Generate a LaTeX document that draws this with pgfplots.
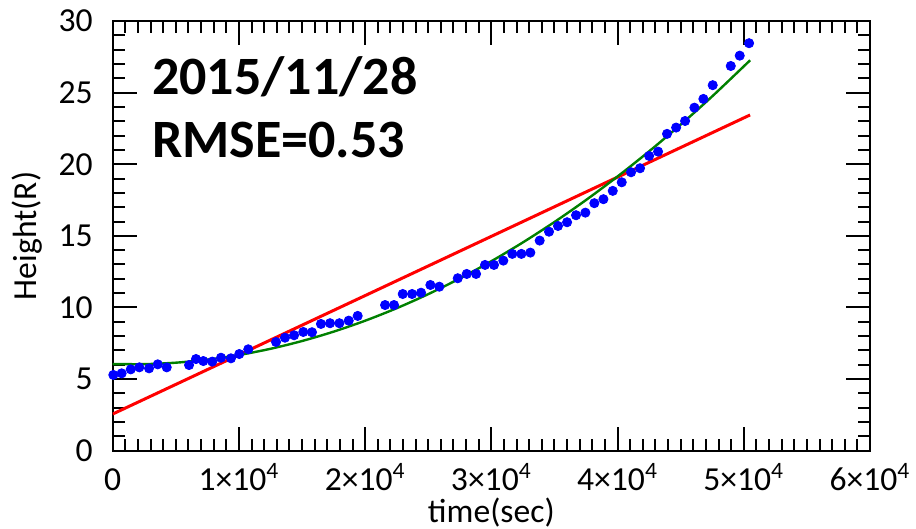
\documentclass[border=0pt]{standalone}
\usepackage{fontspec}
\setmainfont{Carlito}
\usepackage{pgfplots}
\pgfplotsset{compat=1.18}
\definecolor{fitgreen}{RGB}{0,128,0}
\begin{document}
\begin{tikzpicture}
\begin{axis}[
  at={(0,0)}, anchor=south west,
  scale only axis, width=378.65bp, height=214.85bp,
  xmin=0, xmax=60000, ymin=0, ymax=30,
  xtick={0,10000,20000,30000,40000,50000,60000},
  xticklabels={0,1×10\textsuperscript{4},2×10\textsuperscript{4},3×10\textsuperscript{4},4×10\textsuperscript{4},5×10\textsuperscript{4},6×10\textsuperscript{4}},
  minor x tick num=9,
  ytick={0,5,10,15,20,25,30},
  yticklabels={0,5,10,15,20,25,30},
  minor y tick num=4,
  tick align=inside,
  major tick length=12bp, minor tick length=6bp,
  every tick/.style={black, line width=1bp},
  axis line style={line width=1bp},
  scaled x ticks=false,
  font=\fontsize{16.8bp}{19bp}\selectfont,
  xticklabel style={anchor=base, yshift=-20bp, inner sep=0pt},
  yticklabel style={anchor=east, xshift=-9.8bp, inner sep=0pt},
  xlabel={time(sec)}, ylabel={Height(R)},
  xlabel style={at={(axis description cs:0.5,-0.1676)}, anchor=base, inner sep=0pt},
  ylabel style={at={(axis description cs:-0.1133,0.5)}, anchor=center},
]
\addplot[red, line width=1.5bp] coordinates {(0,2.56) (50500,23.44)};
\addplot[fitgreen, line width=1.2bp, smooth] coordinates {
(0,6.05) (2500,6.043) (5000,6.145) (7500,6.358) (10000,6.681) (12500,7.114)
(15000,7.657) (17500,8.311) (20000,9.074) (22500,9.948) (25000,10.931)
(27500,12.025) (30000,13.229) (32500,14.543) (35000,15.967) (37500,17.501)
(40000,19.146) (42500,20.901) (45000,22.765) (47500,24.740) (50500,27.256)};
\addplot[only marks, mark=*, mark size=2.3bp, blue, mark options={fill=blue, draw=blue}] coordinates {
(50,5.29) (710,5.40) (1430,5.68) (2110,5.82) (2880,5.75) (3570,6.03) (4280,5.82)
(6050,5.98) (6600,6.40) (7180,6.26) (7890,6.22) (8580,6.49) (9370,6.45)
(10030,6.75) (10740,7.08) (12940,7.59) (13650,7.89) (14370,8.06) (15100,8.29)
(15790,8.27) (16500,8.85) (17220,8.90) (17960,8.90) (18700,9.08) (19410,9.41)
(21580,10.17) (22290,10.17) (22980,10.94) (23720,10.94) (24430,11.03)
(25170,11.57) (25880,11.45) (27340,12.04) (28050,12.34) (28790,12.34)
(29500,12.97) (30210,12.97) (30950,13.27) (31660,13.74) (32380,13.74)
(33090,13.83) (33830,14.67) (34570,15.29) (35280,15.69) (36000,15.95)
(36710,16.44) (37450,16.62) (38160,17.28) (38880,17.56) (39620,18.14)
(40330,18.74) (41070,19.44) (41780,19.72) (42500,20.58) (43210,20.88)
(43920,22.12) (44640,22.56) (45350,23.02) (46090,23.95) (46800,24.56)
(47540,25.52) (48970,26.86) (49680,27.58) (50420,28.45)};
\node[anchor=base west, inner sep=0pt, font=\fontsize{27bp}{30bp}\selectfont\bfseries] at (axis cs:3100,24.84) {2015/11/28};
\node[anchor=base west, inner sep=0pt, font=\fontsize{27bp}{30bp}\selectfont\bfseries] at (axis cs:3100,20.5) {RMSE=0.53};
\end{axis}
\pgfresetboundingbox
\path[use as bounding box] (-56.35bp,-39.15bp) rectangle (401.65bp,225.35bp);
\end{tikzpicture}
\end{document}
